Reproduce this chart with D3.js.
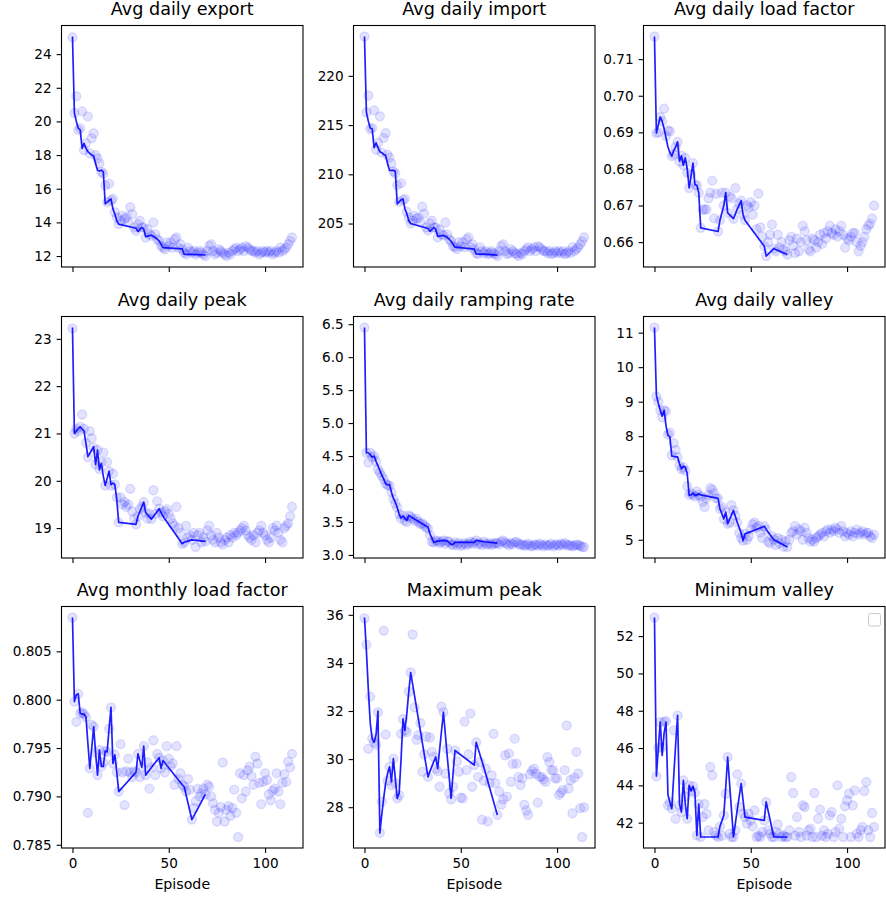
<!DOCTYPE html>
<html>
<head>
<meta charset="utf-8">
<script src="https://cdn.jsdelivr.net/npm/d3@7"></script>
<style>
  body { margin: 0; background: #fff; }
  svg { display: block; font-family: "DejaVu Sans", sans-serif; }
</style>
</head>
<body>
<svg width="886" height="897"></svg>
<script>
// episodes where the blue line has its vertices (shared by all panels)
const lineEp = [0,1,2,3,4,5,6,7,8,9,10,11,12,13,14,15,16,17,18,19,20,21,22,23,24,
    33,34,36,37,38,41,43,45,46,47,57,58,62,69];

const titles = ["Avg daily export", "Avg daily import", "Avg daily load factor",
    "Avg daily peak", "Avg daily ramping rate", "Avg daily valley",
    "Avg monthly load factor", "Maximum peak", "Minimum valley"];

// scatter values, one per episode (0..114)
const exportVals = [25.0,20.5,21.5,19.5,19.6,20.6,18.3,18.7,20.3,18.1,
    19.0,19.3,18.0,17.8,17.5,17.0,16.9,16.2,15.2,16.3,
    15.3,15.4,14.6,14.3,13.9,14.1,14.4,14.2,14.3,14.0,
    14.9,14.5,13.7,13.5,13.9,14.1,13.7,13.7,13.1,13.6,
    13.3,13.2,14.0,13.3,13.0,12.9,12.6,12.5,12.4,12.8,
    12.6,12.8,12.5,13.0,13.1,12.5,12.7,12.4,12.2,12.1,
    12.5,12.3,12.2,12.3,12.1,12.2,12.3,12.2,12.1,12.0,
    12.3,12.6,12.7,12.3,12.1,12.2,12.4,12.3,12.2,12.1,
    12.0,12.2,12.1,12.3,12.4,12.5,12.3,12.4,12.5,12.3,
    12.6,12.5,12.4,12.3,12.3,12.2,12.3,12.1,12.2,12.3,
    12.2,12.3,12.2,12.3,12.1,12.2,12.3,12.2,12.5,12.3,
    12.4,12.5,12.7,12.9,13.1];
const exportLine = [25.05,20.5,20.0,19.6,19.5,18.4,18.7,18.4,18.2,18.1,
    18.0,17.95,17.5,17.1,17.05,17.1,17.0,15.1,15.2,15.3,
    15.4,14.8,14.5,14.1,13.9,
    13.65,13.45,13.7,13.6,13.15,13.24,13.1,12.9,12.7,12.5,12.42,12.1,12.1,12.06];

const importVals = [224.0,216.3,218.0,214.6,214.7,216.5,212.5,213.2,215.9,212.2,
    213.7,214.2,212.0,211.7,211.1,210.3,210.1,208.9,207.2,209.1,
    207.4,207.5,206.2,205.6,205.0,205.3,205.8,205.5,205.6,205.1,
    206.7,206.0,204.6,204.3,205.0,205.3,204.6,204.6,203.6,204.4,
    203.9,203.8,205.1,203.9,203.4,203.2,202.7,202.6,202.4,203.1,
    202.7,203.1,202.6,203.4,203.6,202.6,202.9,202.4,202.0,201.9,
    202.6,202.2,202.0,202.2,201.9,202.0,202.2,202.0,201.9,201.7,
    202.2,202.7,202.9,202.2,201.9,202.0,202.4,202.2,202.0,201.9,
    201.7,202.0,201.9,202.2,202.4,202.6,202.2,202.4,202.6,202.2,
    202.7,202.6,202.4,202.2,202.2,202.0,202.2,201.9,202.0,202.2,
    202.0,202.2,202.0,202.2,201.9,202.0,202.2,202.0,202.6,202.2,
    202.4,202.6,202.9,203.2,203.6];
const importLine = [224.0,216.3,215.4,214.7,214.6,212.7,213.2,212.7,212.3,212.2,
    212.0,211.9,211.1,210.4,210.4,210.4,210.3,207.0,207.2,207.4,
    207.5,206.5,206.0,205.3,205.0,
    204.5,204.2,204.6,204.4,203.7,203.8,203.6,203.2,202.9,202.6,202.4,201.9,201.9,201.8];

const loadVals = [.7162,.6898,.690,.6942,.693,.6965,.689,.6905,.6903,.6835,
    .684,.686,.6874,.682,.6836,.681,.683,.679,.6748,.6785,
    .6816,.6757,.6755,.6735,.6639,.6688,.6690,.6689,.6720,.6735,
    .6768,.6665,.6732,.6629,.666,.6735,.670,.6735,.668,.6725,
    .672,.6664,.6748,.669,.6705,.6713,.6675,.666,.670,.6695,
    .6709,.6675,.6700,.6635,.6733,.664,.6615,.6589,.6562,.6600,
    .662,.6648,.6582,.6575,.662,.6585,.660,.658,.6575,.6566,
    .6605,.6615,.659,.657,.661,.6575,.6600,.6645,.663,.6605,
    .658,.6575,.661,.6605,.6585,.660,.662,.6595,.6625,.661,
    .663,.6645,.6625,.662,.6635,.6615,.663,.6645,.662,.6585,
    .661,.6605,.6615,.6625,.6625,.660,.6575,.659,.660,.6615,
    .6635,.6645,.665,.6665,.670];
const loadLine = [.7162,.6898,.692,.6942,.693,.691,.6885,.686,.6845,.6835,
    .685,.686,.6874,.6821,.6836,.681,.683,.680,.6748,.678,
    .6816,.6757,.6755,.6735,.6639,
    .6629,.666,.670,.6735,.668,.6664,.669,.6713,.6675,.666,.6589,.6562,.6582,.6566];

const peakVals = [23.22,21.0,21.1,21.05,21.14,21.4,21.1,20.8,20.5,21.05,
    20.9,20.7,20.35,20.65,20.25,20.4,20.6,19.9,20.4,20.2,
    19.9,20.15,19.92,19.65,19.12,19.65,19.5,19.55,19.45,19.5,
    19.83,19.35,19.2,19.08,19.25,19.4,19.45,19.55,19.33,19.2,
    19.3,19.19,19.8,19.3,19.57,19.41,19.33,19.25,19.35,19.4,
    19.3,19.2,19.1,19.05,19.45,19.0,18.9,18.67,18.7,19.05,
    18.8,18.85,18.75,18.9,18.6,18.85,18.9,18.7,18.8,18.72,
    18.95,19.05,18.85,18.75,18.7,18.9,18.8,18.7,18.65,18.75,
    18.8,18.7,18.85,18.8,18.9,18.85,18.9,18.95,19.0,19.05,
    18.95,18.85,18.8,18.75,18.85,18.7,18.9,18.95,19.05,18.9,
    18.85,18.75,18.7,18.8,19.0,18.95,19.05,18.9,18.75,18.7,
    19.0,19.05,19.1,19.25,19.45];
const peakLine = [23.24,21.0,21.05,21.1,21.14,21.1,21.05,20.79,20.51,20.58,
    20.65,20.72,20.34,20.65,20.23,20.37,20.1,19.9,20.05,20.2,
    19.92,19.95,19.92,19.6,19.12,
    19.08,19.25,19.45,19.55,19.33,19.19,19.3,19.41,19.33,19.25,18.67,18.7,18.75,18.72];

const rampVals = [6.45,4.55,4.4,4.55,4.48,4.5,4.42,4.3,4.25,4.2,
    4.15,4.08,4.06,4.05,3.95,3.85,3.78,3.72,3.62,3.55,
    3.6,3.52,3.5,3.6,3.58,3.55,3.52,3.55,3.5,3.47,
    3.48,3.45,3.42,3.4,3.3,3.2,3.19,3.22,3.21,3.18,
    3.2,3.22,3.17,3.21,3.2,3.16,3.15,3.19,3.15,3.18,
    3.14,3.16,3.18,3.15,3.17,3.2,3.17,3.19,3.22,3.16,
    3.18,3.15,3.2,3.17,3.16,3.18,3.15,3.17,3.18,3.18,
    3.16,3.2,3.22,3.19,3.17,3.15,3.18,3.16,3.19,3.2,
    3.17,3.15,3.16,3.14,3.15,3.17,3.14,3.13,3.15,3.16,
    3.14,3.17,3.15,3.13,3.16,3.14,3.15,3.17,3.13,3.15,
    3.16,3.14,3.17,3.15,3.18,3.16,3.14,3.15,3.13,3.14,
    3.16,3.15,3.14,3.12,3.12];
const rampLine = [6.45,4.55,4.55,4.52,4.48,4.5,4.42,4.35,4.28,4.21,
    4.15,4.08,4.06,4.07,3.95,3.86,3.8,3.72,3.62,3.56,
    3.59,3.55,3.52,3.6,3.58,
    3.42,3.32,3.19,3.2,3.21,3.22,3.21,3.16,3.16,3.19,3.19,3.22,3.2,3.18];

const valleyVals = [11.15,9.15,9.0,8.75,8.55,8.75,8.72,8.05,8.1,7.45,
    7.8,7.6,7.4,7.15,7.05,7.1,7.0,6.55,6.3,6.35,
    6.3,6.25,6.4,6.3,6.25,6.1,5.95,6.2,6.3,6.5,
    6.45,6.35,6.2,6.2,5.9,5.95,5.6,5.8,5.46,5.5,
    6.0,5.85,5.7,5.5,5.2,5.05,4.98,5.17,5.0,5.1,
    5.3,5.45,5.5,5.35,5.4,5.2,5.05,5.39,5.3,4.95,
    4.9,5.1,5.0,4.85,5.05,4.9,5.0,4.8,4.95,4.79,
    5.0,5.2,5.25,5.4,5.15,5.3,5.25,5.0,5.35,5.2,
    5.05,4.95,5.0,4.95,5.05,5.1,5.15,5.2,5.1,5.25,
    5.3,5.2,5.3,5.25,5.35,5.3,5.2,5.4,5.25,5.1,
    5.2,5.15,5.25,5.1,5.2,5.3,5.15,5.2,5.25,5.15,
    5.2,5.2,5.1,5.05,5.15];
const valleyLine = [11.15,9.19,8.95,8.75,8.58,8.75,8.3,8.03,7.98,7.42,
    7.42,7.4,7.4,7.2,7.06,7.13,7.1,6.92,6.29,6.3,
    6.35,6.28,6.3,6.33,6.3,
    6.2,5.9,5.6,5.8,5.46,5.85,5.5,5.2,4.98,5.17,5.39,5.3,5.0,4.79];

const monthlyVals = [.8085,.7998,.7977,.8006,.7986,.7987,.7985,.7982,.7883,.7929,
    .7974,.7972,.7945,.7922,.7948,.7931,.7935,.7947,.7946,.7970,
    .7992,.7934,.7943,.7925,.7905,.7954,.7925,.7891,.7926,.7939,
    .7925,.7920,.7926,.7925,.7944,.7920,.7930,.7952,.7922,.7935,
    .7908,.7930,.7958,.7922,.7944,.7940,.7929,.7937,.7925,.7952,
    .7939,.7931,.7934,.7912,.7952,.7918,.7924,.7912,.7910,.7905,
    .7918,.7907,.7876,.7888,.7895,.7908,.7900,.7903,.7908,.7902,
    .7912,.7910,.7900,.7893,.7886,.7874,.7883,.7889,.7935,.7874,
    .7886,.7890,.7880,.7888,.7907,.7883,.7858,.7924,.7898,.7922,
    .7905,.7927,.7931,.7921,.7912,.7941,.7934,.7914,.7892,.7915,
    .7924,.7917,.7902,.7896,.7906,.7908,.7924,.7905,.7892,.7914,
    .7923,.7915,.7936,.7930,.7944];
const monthlyLine = [.8085,.7998,.8005,.8006,.7986,.7985,.7985,.7982,.7955,.7929,
    .795,.7972,.7945,.7922,.7948,.7931,.7931,.7947,.7946,.797,
    .7992,.7934,.7943,.7925,.7905,
    .7925,.7944,.7930,.7952,.7922,.7930,.7935,.7940,.7929,.7937,.7912,.7910,.7876,.7902];

const maxPeakVals = [35.86,34.76,30.43,32.6,30.85,30.7,30.6,31.95,26.93,28.23,
    35.34,31.02,29.1,29.68,28.92,30.02,29.0,28.37,28.5,31.05,
    31.67,31.19,31.12,32.8,33.6,35.18,32.15,30.8,31.0,31.5,
    29.47,30.2,30.94,29.26,30.9,30.3,30.09,29.6,29.5,28.85,
    32.18,31.95,29.4,30.43,28.58,28.33,28.85,30.36,29.9,29.47,
    28.4,28.37,31.56,29.54,30.2,31.9,28.85,29.75,30.7,29.26,
    29.88,27.48,29.1,29.6,27.41,29.0,29.33,31.05,29.0,27.68,
    28.65,28.1,28.33,30.16,28.44,30.23,29.06,29.8,30.85,29.81,
    29.26,28.92,29.2,28.1,27.86,27.68,29.37,29.51,29.6,29.4,
    28.19,29.26,29.26,29.15,29.06,30.09,29.88,29.54,29.54,29.2,
    29.2,28.51,28.6,28.72,29.54,31.4,28.78,29.13,27.75,29.23,
    30.3,29.4,27.96,26.76,28.0];
const maxPeakLine = [35.89,34.5,32.9,31.5,30.85,30.7,31.0,32.0,26.93,27.7,
    28.4,29.0,29.4,29.68,29.06,30.02,29.2,28.37,28.58,30.0,
    31.67,31.19,31.9,32.8,33.6,
    29.26,29.5,29.9,30.09,29.6,31.95,30.1,28.37,29.4,30.36,29.75,30.7,29.65,27.68];

const minValleyVals = [53.0,44.48,46.0,47.39,46.05,47.4,47.45,42.93,43.1,42.75,
    46.95,42.2,47.75,42.93,42.57,44.27,43.4,42.21,44.0,43.7,
    43.95,43.6,41.32,43.0,41.23,42.3,43.0,42.48,41.59,44.98,
    44.54,41.5,41.32,41.23,41.8,41.3,42.39,43.55,45.52,41.4,
    41.23,41.23,41.59,44.59,42.84,44.09,42.5,42.3,41.95,42.48,
    42.13,41.8,42.66,41.23,41.3,41.23,41.5,42.12,43.11,41.6,
    41.41,41.23,41.23,41.5,41.91,41.41,41.23,41.3,41.23,41.23,
    41.59,44.45,43.59,41.3,42.3,41.5,41.23,42.93,42.84,41.3,
    41.59,41.68,41.23,43.59,41.23,42.21,42.7,41.3,41.59,41.23,
    41.4,42.39,42.57,41.23,41.5,44.0,41.68,42.21,41.23,42.88,
    43.2,43.55,41.23,42.93,43.73,41.4,41.23,41.6,41.77,43.7,
    44.18,41.59,41.23,42.52,41.77];
const minValleyLine = [53.0,44.5,46.0,47.39,45.6,46.8,47.39,43.5,43.1,42.75,
    44.5,46.2,47.75,43.0,42.57,44.27,43.0,42.21,44.0,43.7,
    43.95,43.6,41.32,43.0,41.23,
    41.23,41.8,42.39,43.9,45.52,41.23,42.7,44.09,43.2,42.3,42.12,43.11,41.23,41.23];

// y tick values per panel
const yTicks = [
    [12,14,16,18,20,22,24],
    [205,210,215,220],
    [0.66,0.67,0.68,0.69,0.70,0.71],
    [19,20,21,22,23],
    [3.0,3.5,4.0,4.5,5.0,5.5,6.0,6.5],
    [5,6,7,8,9,10,11],
    [0.785,0.790,0.795,0.800,0.805],
    [28,30,32,34,36],
    [42,44,46,48,50,52]
];
const yFormats = [",d", ",d", ".2f", ",d", ".1f", ",d", ".3f", ",d", ",d"];
const xTicks = [0, 50, 100];

const scatterSets = [exportVals, importVals, loadVals, peakVals, rampVals,
    valleyVals, monthlyVals, maxPeakVals, minValleyVals];
const lineSets = [exportLine, importLine, loadLine, peakLine, rampLine,
    valleyLine, monthlyLine, maxPeakLine, minValleyLine];

const colX = [61.5, 353.5, 643.5];
const rowY = [25.5, 316.5, 606.5];
const pw = 241.5, ph = 241.5;

const svg = d3.select("svg");

titles.forEach((title, i) => {
    const col = i % 3, row = Math.floor(i / 3);
    const left = colX[col], top = rowY[row];
    const vals = scatterSets[i], lv = lineSets[i];
    const eps = d3.range(vals.length);

    const xPad = (eps.length - 1) * 0.05;
    const x = d3.scaleLinear()
        .domain([-xPad, eps.length - 1 + xPad])
        .range([left, left + pw]);

    const ext = d3.extent(vals.concat(lv));
    const yPad = (ext[1] - ext[0]) * 0.05;
    const y = d3.scaleLinear()
        .domain([ext[0] - yPad, ext[1] + yPad])
        .range([top + ph, top]);

    svg.append("clipPath").attr("id", "clip" + i)
        .append("rect").attr("x", left).attr("y", top)
        .attr("width", pw).attr("height", ph);

    const g = svg.append("g").attr("clip-path", `url(#clip${i})`);

    g.selectAll("circle")
        .data(eps)
        .enter().append("circle")
        .attr("cx", d => x(d))
        .attr("cy", d => y(vals[d]))
        .attr("r", 4.5)
        .attr("fill", "blue")
        .attr("fill-opacity", 0.11)
        .attr("stroke", "blue")
        .attr("stroke-opacity", 0.11)
        .attr("stroke-width", 1.4);

    g.append("path")
        .datum(lineEp)
        .attr("fill", "none")
        .attr("stroke", "blue")
        .attr("stroke-opacity", 0.88)
        .attr("stroke-width", 1.7)
        .attr("stroke-linejoin", "round")
        .attr("d", d3.line().x(d => x(d)).y((d, k) => y(lv[k])));

    // frame
    svg.append("rect")
        .attr("x", left).attr("y", top)
        .attr("width", pw).attr("height", ph)
        .attr("fill", "none").attr("stroke", "#000").attr("stroke-width", 1.1);

    const yAxis = svg.append("g")
        .attr("transform", `translate(${left},0)`)
        .call(d3.axisLeft(y).tickValues(yTicks[i]).tickSize(4.9).tickPadding(5)
            .tickFormat(d3.format(yFormats[i])));

    const xAxis = svg.append("g")
        .attr("transform", `translate(0,${top + ph})`)
        .call(d3.axisBottom(x).tickValues(xTicks).tickSize(4.9).tickPadding(5.5)
            .tickFormat(row === 2 ? d3.format("d") : () => ""));

    [yAxis, xAxis].forEach(a => {
        a.select(".domain").remove();
        a.selectAll(".tick line").attr("stroke", "#000").attr("stroke-width", 1.1);
        a.selectAll(".tick text").attr("fill", "#000")
            .style("font-size", "13.6px").style("font-family", "DejaVu Sans");
    });

    svg.append("text")
        .attr("x", left + pw / 2)
        .attr("y", top - 10.5)
        .attr("text-anchor", "middle")
        .style("font-size", "17.6px")
        .text(title);

    if (row === 2) {
        svg.append("text")
            .attr("x", left + pw / 2)
            .attr("y", 889)
            .attr("text-anchor", "middle")
            .style("font-size", "14.2px")
            .text("Episode");
    }
});

// empty legend box in the last panel
svg.append("rect")
    .attr("x", 868.5).attr("y", 613.5)
    .attr("width", 12).attr("height", 12.5).attr("rx", 2)
    .attr("fill", "#fff").attr("fill-opacity", 0.8)
    .attr("stroke", "#ccc").attr("stroke-width", 1);
</script>
</body>
</html>
